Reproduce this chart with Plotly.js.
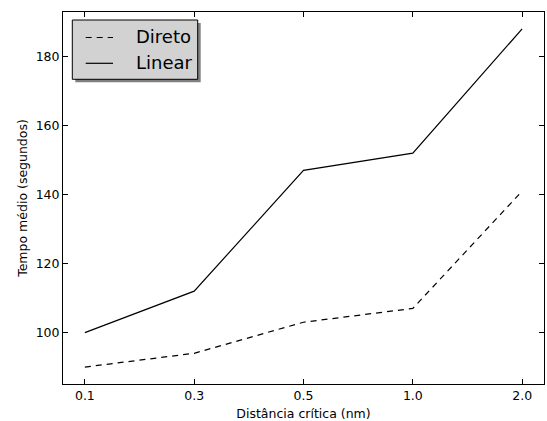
<!DOCTYPE html>
<html>
<head>
<meta charset="utf-8">
<script src="https://cdn.plot.ly/plotly-3.0.1.min.js"></script>
<style>
  html, body { margin: 0; padding: 0; background: #ffffff; }
  #chart { width: 547px; height: 421px; }
</style>
</head>
<body>
<div id="chart"></div>
<script>
// Distâncias críticas (eixo categórico)
const distancias = ["0.1", "0.3", "0.5", "1.0", "2.0"];
// Tempo médio (s) de cada método
const tempoDireto = [90, 94, 103, 107, 141];
const tempoLinear = [100, 112, 147, 152, 188];
const yTicks = [100, 120, 140, 160, 180];

const FONT = "DejaVu Sans, sans-serif";

const series = [
  { name: "Direto", y: tempoDireto, dash: "6px,5px" },
  { name: "Linear", y: tempoLinear, dash: "solid" }
];

const traces = series.map(s => ({
  x: distancias, y: s.y, name: s.name, type: "scatter", mode: "lines",
  line: { color: "#000000", width: 1.2, dash: s.dash }
}));

// Legend box drawn in pixels from the top-left corner of the axes
const box = { left: 9.3, right: 134.7, top: 8, bottom: 67.3, shadow: 3 };
const rowY = [25.5, 51.3];
const sampleX = [22.7, 50];
const textX = 71;

const shapes = [
  { // shadow
    type: "rect", xref: "paper", yref: "paper", xsizemode: "pixel", ysizemode: "pixel",
    xanchor: 0, yanchor: 1,
    x0: box.left + box.shadow, x1: box.right + box.shadow,
    y0: -(box.bottom + box.shadow), y1: -(box.top + box.shadow),
    fillcolor: "#808080", line: { width: 0 }, layer: "above"
  },
  { // frame
    type: "rect", xref: "paper", yref: "paper", xsizemode: "pixel", ysizemode: "pixel",
    xanchor: 0, yanchor: 1,
    x0: box.left, x1: box.right, y0: -box.bottom, y1: -box.top,
    fillcolor: "#d2d2d2", line: { width: 1, color: "#000000" }, layer: "above"
  }
];
const annotations = [];
series.forEach((s, i) => {
  shapes.push({
    type: "line", xref: "paper", yref: "paper", xsizemode: "pixel", ysizemode: "pixel",
    xanchor: 0, yanchor: 1,
    x0: sampleX[0], x1: sampleX[1], y0: -rowY[i], y1: -rowY[i],
    line: { color: "#000000", width: 1.2, dash: s.dash }, layer: "above"
  });
  annotations.push({
    xref: "paper", yref: "paper", x: 0, y: 1, xanchor: "left", yanchor: "middle",
    xshift: textX, yshift: -rowY[i] + 1, showarrow: false, text: s.name,
    font: { family: FONT, size: 18, color: "#000000" }
  });
});

const axisCommon = {
  showline: true, linecolor: "#000000", linewidth: 1,
  mirror: "ticks", ticks: "inside", ticklen: 5, tickwidth: 1, tickcolor: "#000000",
  showgrid: false, zeroline: false,
  tickfont: { family: FONT, size: 12.5, color: "#000000" }
};

const layout = {
  width: 547, height: 421,
  margin: { l: 63, r: 3, t: 12, b: 37 },
  paper_bgcolor: "#ffffff", plot_bgcolor: "#ffffff",
  showlegend: false,
  shapes: shapes,
  annotations: annotations,
  xaxis: Object.assign({}, axisCommon, {
    type: "category", range: [-0.2, 4.2],
    title: { text: "Distância crítica (nm)", font: { family: FONT, size: 12.5, color: "#000000" }, standoff: 7 }
  }),
  yaxis: Object.assign({}, axisCommon, {
    range: [85.1, 192.9], tickvals: yTicks, ticktext: yTicks.map(String),
    title: { text: "Tempo médio (segundos)", font: { family: FONT, size: 12.5, color: "#000000" }, standoff: 5 }
  })
};

Plotly.newPlot("chart", traces, layout, { displayModeBar: false, staticPlot: true });
</script>
</body>
</html>
